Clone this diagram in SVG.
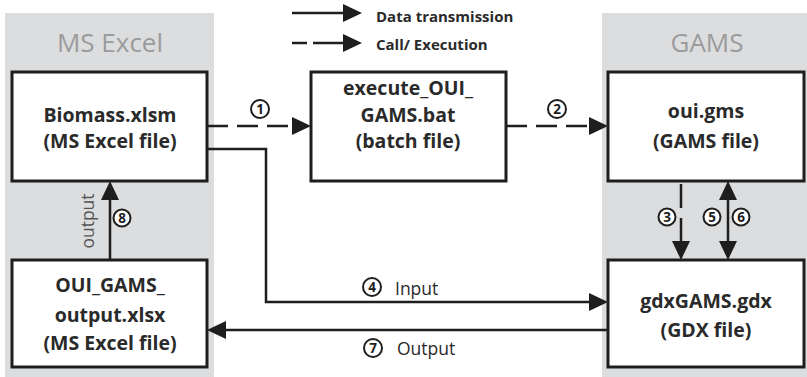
<svg xmlns="http://www.w3.org/2000/svg" width="807" height="377" viewBox="0 0 807 377">
<style>
.panel{fill:#dcdddf;stroke:none}
.title{font-family:"Open Sans","Liberation Sans",sans-serif;font-size:26px;fill:#9b9b9b;text-anchor:middle}
.box{fill:#fff;stroke:#1e1e1e;stroke-width:3}
.bt{font-family:"Open Sans","Liberation Sans",sans-serif;font-size:19.5px;font-weight:700;fill:#2a2a2a;text-anchor:middle}
.ln{fill:none;stroke:#1e1e1e;stroke-width:2.5}
.dash{stroke-dasharray:21 9}
.lab{font-family:"Open Sans","Liberation Sans",sans-serif;font-size:17.5px;fill:#2a2a2a}
.leg{font-family:"Open Sans","Liberation Sans",sans-serif;font-size:15px;font-weight:700;fill:#2a2a2a}
.cir{fill:#fff;stroke:#1e1e1e;stroke-width:2}
.num{font-family:"Open Sans","Liberation Sans",sans-serif;font-size:13.5px;font-weight:700;fill:#1e1e1e;text-anchor:middle}
</style>
<defs>
<marker id="ah" markerUnits="userSpaceOnUse" markerWidth="20" markerHeight="18" refX="0" refY="9" orient="auto-start-reverse" overflow="visible">
<path d="M0,0 L19,9 L0,18 z" fill="#1e1e1e"/>
</marker>
</defs>
<rect class="panel" x="5" y="13" width="209" height="364"/>
<rect class="panel" x="602" y="13" width="205" height="364"/>
<text class="title" x="110" y="52">MS Excel</text>
<text class="title" x="707" y="52">GAMS</text>
<g id="legend">
<path class="ln" d="M292,13 H343" marker-end="url(#ah)"/>
<path class="ln" d="M292,43 H307 M313,43 H343" marker-end="url(#ah)"/>
<text class="leg" x="376" y="22">Data transmission</text>
<text class="leg" x="376" y="50">Call/ Execution</text>
</g>
<g id="connectors">
<path class="ln dash" d="M207,126 H292" marker-end="url(#ah)"/>
<path class="ln dash" d="M506,126 H589" marker-end="url(#ah)"/>
<path class="ln" d="M207,149 H266 V302 H589" marker-end="url(#ah)"/>
<path class="ln" d="M608,330 H226" marker-end="url(#ah)"/>
<path class="ln" d="M110,260 V200" marker-end="url(#ah)"/>
<path class="ln" d="M681,184 V241" style="stroke-dasharray:24 10" marker-end="url(#ah)"/>
<path class="ln" d="M728,200 V241" marker-start="url(#ah)" marker-end="url(#ah)"/>
<circle class="cir" cx="260" cy="109" r="9"/><text class="num" x="260" y="114">1</text>
<circle class="cir" cx="557" cy="109" r="9"/><text class="num" x="557" y="114">2</text>
<circle class="cir" cx="667" cy="217" r="8.5"/><text class="num" x="667" y="222">3</text>
<circle class="cir" cx="372" cy="287" r="9"/><text class="num" x="372" y="292">4</text>
<circle class="cir" cx="712" cy="217" r="8.5"/><text class="num" x="712" y="222">5</text>
<circle class="cir" cx="741" cy="217" r="8.5"/><text class="num" x="741" y="222">6</text>
<circle class="cir" cx="373" cy="348" r="9"/><text class="num" x="373" y="353">7</text>
<circle class="cir" cx="122" cy="218" r="8.5"/><text class="num" x="122" y="223">8</text>
<text class="lab" x="395" y="295">Input</text>
<text class="lab" x="397" y="355">Output</text>
<text class="lab" transform="translate(94,221) rotate(-90)" text-anchor="middle" style="fill:#555">output</text>
</g>
<g id="biomass">
<rect class="box" x="12" y="72" width="195" height="109"/>
<text class="bt" x="110" y="122">Biomass.xlsm</text>
<text class="bt" x="110" y="148">(MS Excel file)</text>
</g>
<g id="execute">
<rect class="box" x="311" y="72" width="195" height="109"/>
<text class="bt" x="408" y="95">execute_OUI_</text>
<text class="bt" x="408" y="122">GAMS.bat</text>
<text class="bt" x="408" y="148">(batch file)</text>
</g>
<g id="oui">
<rect class="box" x="608" y="72" width="196" height="109"/>
<text class="bt" x="706" y="118">oui.gms</text>
<text class="bt" x="706" y="148">(GAMS file)</text>
</g>
<g id="output">
<rect class="box" x="12" y="260" width="195" height="107"/>
<text class="bt" x="110" y="292">OUI_GAMS_</text>
<text class="bt" x="110" y="322">output.xlsx</text>
<text class="bt" x="110" y="350">(MS Excel file)</text>
</g>
<g id="gdx">
<rect class="box" x="608" y="260" width="196" height="107"/>
<text class="bt" x="706" y="308">gdxGAMS.gdx</text>
<text class="bt" x="706" y="337">(GDX file)</text>
</g>
</svg>
